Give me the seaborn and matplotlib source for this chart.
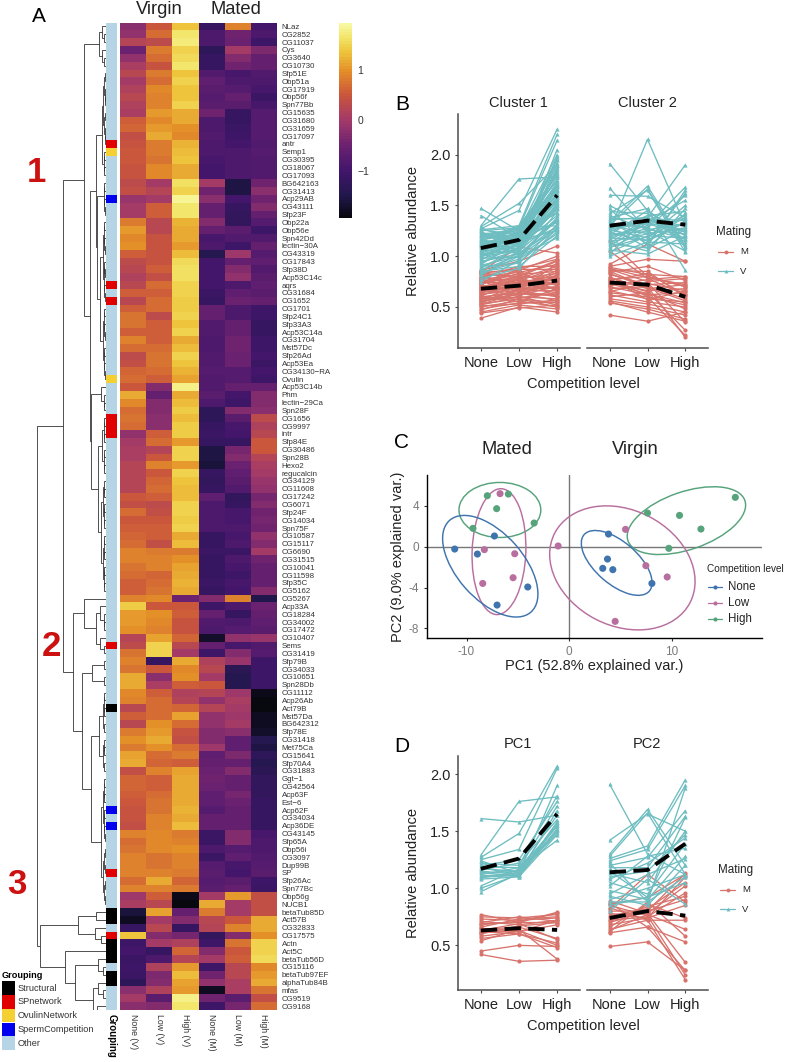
import numpy as np
import pandas as pd
import matplotlib
matplotlib.use("Agg")
import matplotlib.pyplot as plt
from matplotlib.colors import LinearSegmentedColormap, ListedColormap
from matplotlib.lines import Line2D
from matplotlib.patches import Ellipse, Rectangle
import seaborn as sns

W, H = 786, 1062

genes = """NLaz CG2852 CG11037 Cys CG3640 CG10730 Sfp51E Obp51a CG17919 Obp56f Spn77Bb CG15635 CG31680 CG31659 CG17097 antr Semp1 CG30395 CG18067 CG17093 BG642163 CG31413 Acp29AB CG43111 Sfp23F Obp22a Obp56e Spn42Dd lectin−30A CG43319 CG17843 Sfp38D Acp53C14c aqrs CG31684 CG1652 CG1701 Sfp24C1 Sfp33A3 Acp53C14a CG31704 Mst57Dc Sfp26Ad Acp53Ea CG34130−RA Ovulin Acp53C14b Phm lectin−29Ca Spn28F CG1656 CG9997 intr Sfp84E CG30486 Spn28B Hexo2 regucalcin CG34129 CG11608 CG17242 CG6071 Sfp24F CG14034 Spn75F CG10587 CG15117 CG6690 CG31515 CG10041 CG11598 Sfp35C CG5162 CG5267 Acp33A CG18284 CG34002 CG17472 CG10407 Sems CG31419 Sfp79B CG34033 CG10651 Spn28Db CG11112 Acp26Ab Act79B Mst57Da BG642312 Sfp78E CG31418 Met75Ca CG15641 Sfp70A4 CG31883 Ggt−1 CG42564 Acp63F Est−6 Acp62F CG34034 Acp36DE CG43145 Sfp65A Obp56i CG3097 Dup99B SP Sfp26Ac Spn77Bc Obp56g NUCB1 betaTub85D Act57B CG32833 CG17575 Actn Act5C betaTub56D CG15116 betaTub97EF alphaTub84B mfas CG9519 CG9168""".split()
conditions = ["None (V)", "Low (V)", "High (V)", "None (M)", "Low (M)", "High (M)"]
heat_values = [
[-0.2,0.5,1.35,-1.15,0.85,-1.0],[-0.15,0.7,1.65,-0.9,-0.45,-0.9],[0.2,0.35,1.7,-0.85,-0.5,-1.05],
[-0.5,0.8,1.45,-1.3,0.0,-0.35],[-0.15,0.7,1.55,-1.15,-0.25,-0.55],[0.1,0.45,1.65,-1.15,-0.45,-0.55],
[0.3,0.8,1.35,-0.8,-0.95,-0.8],[0.0,0.7,1.5,-0.65,-0.9,-0.85],[0.15,0.95,1.35,-0.7,-0.75,-0.95],
[0.3,0.85,1.35,-0.75,-0.6,-1.1],[0.15,0.85,1.45,-0.7,-0.7,-0.95],[0.1,1.05,1.2,-0.45,-1.2,-0.75],
[0.55,0.95,1.15,-0.85,-1.15,-0.75],[0.65,1.05,1.0,-0.9,-1.1,-0.75],[0.4,1.15,0.95,-0.8,-1.05,-0.75],
[0.45,0.8,1.25,-0.9,-1.0,-0.8],[0.5,0.8,1.3,-0.9,-0.85,-0.75],[0.5,0.75,1.35,-0.95,-0.85,-0.8],
[0.45,0.95,1.2,-1.0,-0.85,-0.8],[0.45,0.95,1.15,-1.0,-0.85,-0.8],[0.35,0.05,1.6,0.05,-1.55,-0.45],
[0.4,0.2,1.5,-0.45,-1.55,-0.2],[-0.1,0.05,1.85,-0.2,-1.0,-0.45],[0.0,0.6,1.65,-0.6,-1.15,-0.3],
[0.05,0.6,1.65,-0.55,-1.25,-0.55],[0.8,0.3,1.25,-0.3,-1.25,-0.75],[1.05,0.3,1.15,-0.6,-0.7,-1.05],
[0.95,0.45,1.2,-0.95,-0.8,-0.8],[1.0,0.45,1.05,-0.9,-1.05,-0.55],[0.55,0.45,1.3,-1.4,-0.05,-0.75],
[0.35,0.45,1.55,-1.0,-0.55,-0.65],[0.25,0.6,1.6,-1.0,-0.3,-0.8],[0.15,0.4,1.6,-1.0,-0.15,-0.7],
[0.3,0.7,1.45,-1.0,-0.9,-0.65],[0.55,0.55,1.45,-1.1,-0.65,-0.7],[0.3,0.7,1.4,-1.2,-0.5,-0.55],
[0.55,0.7,1.4,-0.55,-0.85,-1.05],[0.75,0.35,1.45,-0.55,-0.85,-1.05],[0.75,0.6,1.35,-0.8,-0.6,-1.15],
[0.6,0.6,1.45,-0.8,-0.55,-1.15],[0.9,0.6,1.2,-0.85,-0.45,-1.05],[0.7,0.7,1.3,-0.85,-0.45,-1.05],
[0.35,0.75,1.45,-0.8,-0.5,-1.0],[0.4,0.75,1.35,-0.8,-0.5,-1.1],[0.65,0.7,1.25,-0.75,-0.75,-1.0],
[0.7,0.6,1.1,-0.8,-0.75,-1.05],[0.5,-0.25,1.8,-0.8,-0.55,-0.55],[1.2,-0.55,1.15,-0.7,-1.0,-0.3],
[0.95,-0.3,1.3,-0.9,-1.05,-0.25],[0.7,-0.3,1.4,-1.3,-0.3,-0.2],[0.75,-0.2,1.3,-1.3,-0.7,0.35],
[0.7,-0.2,1.4,-1.15,-0.95,0.15],[-0.15,0.6,1.4,-1.1,-1.0,0.3],[0.05,0.7,1.05,-1.15,-1.2,0.5],
[0.1,0.2,1.45,-1.55,-0.4,0.5],[0.1,0.5,1.5,-1.55,-0.3,0.2],[0.2,0.85,1.05,-1.6,-0.5,0.1],
[0.2,0.5,1.5,-1.2,-0.65,0.05],[0.2,0.65,1.35,-1.25,-0.7,-0.1],[0.2,0.7,1.3,-1.2,-0.8,-0.15],
[0.5,0.55,1.3,-0.65,-1.25,-0.4],[0.4,0.35,1.5,-0.85,-1.15,-0.25],[0.7,0.4,1.45,-0.85,-0.95,-0.45],
[0.5,0.5,1.4,-0.85,-0.95,-0.4],[0.55,0.55,1.45,-0.85,-0.9,-0.45],[0.65,0.55,1.2,-1.15,-0.95,-0.15],
[0.7,0.4,1.3,-1.15,-0.9,-0.25],[0.85,0.8,0.8,-1.1,-1.1,0.0],[0.85,0.85,1.0,-1.15,-0.85,-0.45],
[0.75,0.85,1.1,-1.2,-0.95,-0.55],[0.7,0.65,1.2,-1.15,-1.05,-0.6],[0.6,0.7,1.25,-1.1,-0.95,-0.6],
[0.55,0.75,1.2,-1.15,-1.0,-0.3],[0.85,0.95,-0.5,-0.3,0.85,-1.45],[1.4,0.5,0.5,-1.05,-0.9,-0.5],
[1.05,1.0,0.55,-0.6,-1.2,-0.6],[1.05,0.95,0.45,-0.8,-0.9,-0.65],[1.0,0.9,0.45,-0.85,-0.75,-0.7],
[0.2,1.1,0.65,-1.7,-0.15,-0.1],[0.35,1.5,0.3,-0.6,-0.95,-0.8],[0.75,1.45,0.05,-1.05,-0.3,-0.75],
[0.9,-1.15,1.2,0.15,-0.1,-1.05],[0.75,0.5,0.95,0.3,-1.35,-1.05],[1.15,-0.2,1.0,0.05,-1.4,-1.05],
[1.15,0.1,0.6,0.5,-1.4,-1.05],[0.95,0.6,0.15,0.2,-0.05,-1.85],[0.85,0.7,0.2,-0.15,0.1,-1.9],
[0.25,0.7,0.65,0.2,0.0,-1.9],[0.6,0.7,1.1,-0.15,-0.05,-1.75],[0.3,1.0,0.7,-0.15,0.0,-1.75],
[0.8,1.05,0.45,-0.25,-0.2,-1.7],[1.0,1.15,0.4,-0.3,-0.65,-1.4],[0.8,1.0,0.7,-0.05,-0.65,-1.55],
[1.1,0.7,0.8,-0.65,-0.35,-1.3],[1.2,0.65,0.6,-0.55,-0.55,-1.4],[0.4,0.9,1.1,-0.5,-0.25,-1.35],
[0.65,0.6,1.15,-0.45,-0.6,-1.25],[0.65,0.6,1.15,-0.5,-0.55,-1.25],[0.55,0.7,1.2,-0.65,-0.4,-1.25],
[0.5,0.75,1.2,-0.65,-0.5,-1.2],[0.45,0.75,1.25,-0.75,-0.55,-1.2],[0.45,0.85,1.2,-0.6,-0.6,-1.2],
[0.4,0.85,1.3,-0.55,-0.6,-1.2],[0.85,0.95,0.8,-1.1,-0.3,-0.95],[0.7,0.95,0.85,-1.1,-0.25,-0.9],
[0.75,0.95,1.0,-0.9,-0.75,-0.85],[0.9,0.75,0.9,-1.1,-0.65,-0.8],[0.9,0.75,0.85,-0.75,-0.95,-0.75],
[0.9,0.85,0.8,-0.7,-1.0,-0.7],[0.7,1.15,0.65,-0.75,-0.7,-1.05],[0.9,0.85,0.8,-0.7,-0.6,-1.1],
[-0.05,0.55,-1.85,0.0,1.05,0.4],[0.1,0.3,-1.9,1.15,0.05,0.4],[-1.6,1.1,-0.6,0.8,0.05,0.4],
[-1.75,0.05,-0.3,0.3,0.5,1.15],[-1.2,0.3,-1.2,0.2,0.85,1.15],[1.35,-0.3,-0.4,-1.25,-0.3,1.0],
[-1.05,0.05,0.15,-1.05,0.75,1.5],[-1.0,-1.15,0.65,-0.25,0.5,1.45],[-1.1,-0.9,0.2,0.05,0.6,1.55],
[-1.05,0.15,1.05,-1.05,0.25,0.95],[-1.1,-0.35,1.3,-0.45,0.25,1.05],[-1.3,-0.3,1.1,-0.15,0.1,1.2],
[-0.2,0.15,1.05,-1.75,0.1,0.75],[0.0,-0.7,1.75,-0.45,-0.7,0.4],[-0.2,-0.3,1.65,-1.05,-0.4,0.7],
]
group_names = ["Structural", "SPnetwork", "OvulinNetwork", "SpermCompetition", "Other"]
group_colors = ["#000000", "#e00000", "#f5d033", "#0000ee", "#b5d5e6"]
special_groups = {
    "antr": 1, "Semp1": 2, "Acp29AB": 3, "aqrs": 1, "CG1652": 1, "Ovulin": 2, "CG1656": 1, "CG9997": 1,
    "intr": 1, "Sems": 1, "Act79B": 0, "Acp62F": 3, "Acp36DE": 3, "SP": 1, "betaTub85D": 0, "Act57B": 0,
    "CG17575": 1, "Actn": 0, "Act5C": 0, "betaTub56D": 0, "betaTub97EF": 0, "alphaTub84B": 0,
}
# dendrogram: (merge height, upper child, lower child); an integer child is a small run of leaves
dendrogram_tree = (69,
  (43,
    (22,
      (7, (4, 1, 2), (4, 1, 2)),
      (16,
        (10,
          (4, (2.5, 5, 5), 4),
          (9, 5, (6, (3, 5, 6), (3, 5, 5)))),
        (15,
          (5, 1, 3),
          (8, (4, 4, 4), (5, (3, 3, 4), (3, 4, 4)))))),
    (33,
      (22, 1, (10, (6, 1, 3), (6, 1, 2))),
      (24,
        (14, 2, 2),
        (15, (7, (3, 4, 2), (3, 3, 2)), (5, (3, 4, 5), (2.5, 4, 4)))))),
  (66,
    (28, (10, 1, 1), (11, 1, (5, 1, 1))),
    (40.5, 1,
      (31,
        (8, 1, (3, 1, 1)),
        (13, (8, 1, (3, 1, 1)), (9, 1, (3, 1, 1)))))))

levels = ["None", "Low", "High"]
cluster1_v = [[1.47,1.25,1.80],[1.40,1.18,1.72],[1.30,1.76,1.78],[1.29,1.52,1.90],[1.27,1.45,2.25],[1.26,1.30,2.20],
[1.25,1.28,2.14],[1.24,1.10,2.05],[1.22,1.25,2.00],[1.21,1.20,1.96],[1.20,1.28,1.30],[1.18,1.24,1.90],[1.17,1.05,1.86],
[1.16,1.22,1.82],[1.15,1.30,1.80],[1.14,1.16,1.25],[1.13,1.20,1.72],[1.12,1.12,1.68],[1.11,1.24,1.64],[1.10,1.15,1.60],
[1.09,1.10,1.56],[1.08,1.18,1.53],[1.06,1.13,1.95],[1.05,1.08,1.46],[1.04,1.20,1.43],[1.02,1.10,1.40],[1.00,1.05,1.37],
[0.99,1.16,1.34],[0.97,1.08,1.88],[0.95,1.02,1.30],[0.93,1.12,1.28],[0.91,1.00,1.26],[0.89,1.04,1.70],[0.87,0.97,1.22],
[0.85,0.90,1.20],[0.82,1.00,1.18],[0.78,0.88,1.28],[0.75,0.96,1.44],[1.23,1.15,1.62],[1.19,1.27,1.75],[1.07,1.22,1.66],
[1.03,1.15,1.50],[1.01,1.07,1.58],[1.13,1.02,1.35],[0.96,1.18,1.78],[1.28,1.14,1.48],[1.26,1.21,1.69],[1.22,1.09,1.55],
[1.17,1.26,1.42],[1.14,1.06,1.92],[1.11,1.19,1.33],[1.09,1.29,1.74],[1.06,1.03,1.27],[1.04,1.25,1.60],[1.01,1.12,1.47],
[0.98,0.99,1.38],[0.94,1.06,1.52],[0.92,1.14,1.65],[0.90,0.93,1.31],[0.88,1.09,1.58],[0.86,1.01,1.36],[0.84,0.94,1.24],
[0.81,1.04,1.50],[1.20,1.17,1.84],[1.16,1.11,1.98],[1.12,1.23,1.70]]
cluster1_m = [[0.86,0.95,1.10],[0.85,1.09,1.03],[0.84,0.86,1.00],[0.83,0.88,0.97],[0.82,0.80,0.95],[0.80,0.84,0.92],
[0.79,0.90,0.90],[0.78,0.76,0.88],[0.77,0.82,0.85],[0.75,0.78,0.83],[0.74,0.74,0.81],[0.73,0.80,0.79],[0.71,0.72,0.78],
[0.70,0.76,0.76],[0.69,0.70,0.74],[0.67,0.74,0.72],[0.66,0.68,0.70],[0.65,0.72,0.68],[0.63,0.66,0.66],[0.62,0.69,0.64],
[0.60,0.64,0.62],[0.59,0.66,0.60],[0.58,0.62,0.70],[0.56,0.60,0.58],[0.55,0.64,0.56],[0.53,0.58,0.54],[0.52,0.60,0.52],
[0.50,0.56,0.50],[0.48,0.54,0.55],[0.45,0.52,0.48],[0.44,0.49,0.52],[0.39,0.50,0.45],[0.81,0.70,0.86],[0.72,0.86,0.65],
[0.68,0.60,0.82],[0.64,0.78,0.60],[0.57,0.72,0.77],[0.76,0.62,0.75],[0.61,0.55,0.68],[0.54,0.68,0.73],[0.84,0.78,0.90],
[0.80,0.73,0.79],[0.77,0.68,0.84],[0.73,0.83,0.71],[0.70,0.66,0.93],[0.67,0.79,0.67],[0.64,0.70,0.80],[0.61,0.75,0.74],
[0.59,0.59,0.64],[0.56,0.67,0.69],[0.53,0.63,0.61],[0.51,0.53,0.57],[0.47,0.58,0.50],[0.74,0.87,0.87],[0.69,0.81,0.96]]
cluster2_v = [[1.91,1.45,1.20],[1.67,1.25,1.05],[1.60,1.59,1.38],[1.50,1.30,1.68],[1.47,1.10,1.65],[1.44,1.42,1.10],
[1.25,2.15,1.30],[1.33,1.69,1.10],[1.30,1.66,1.08],[1.42,1.65,1.04],[1.38,1.47,0.86],[1.36,1.38,1.90],[1.35,1.12,1.62],
[1.32,1.28,1.60],[1.28,1.34,1.55],[1.26,1.18,1.50],[1.24,1.40,1.44],[1.22,1.24,1.40],[1.20,1.30,1.36],[1.18,1.16,1.34],
[1.16,1.36,1.30],[1.14,1.22,1.28],[1.12,1.08,1.26],[1.10,1.33,1.24],[1.08,1.26,1.22],[1.06,1.02,1.20],[1.04,1.20,1.18],
[1.02,1.38,1.14],[1.00,1.14,1.12],[1.40,1.26,1.32],[1.29,1.08,1.42],[1.21,1.45,1.16],[1.15,1.05,1.47],[1.37,1.37,1.35],
[1.31,1.22,1.27],[1.27,1.32,1.21],[1.23,1.15,1.33],[1.19,1.27,1.17],[1.13,1.35,1.25],[1.09,1.19,1.38]]
cluster2_m = [[1.15,0.80,0.70],[1.05,0.78,0.62],[0.92,1.12,0.95],[0.90,0.97,0.95],[0.42,0.36,0.45],[0.55,0.45,0.36],
[0.85,0.70,0.20],[0.80,0.60,0.22],[0.75,0.65,0.27],[0.89,0.82,0.80],[0.87,0.75,0.78],[0.86,0.85,0.60],[0.84,0.90,0.76],
[0.82,0.72,0.74],[0.79,0.68,0.72],[0.77,0.80,0.70],[0.74,0.66,0.68],[0.72,0.73,0.66],[0.70,0.62,0.64],[0.68,0.70,0.58],
[0.66,0.58,0.55],[0.64,0.60,0.52],[0.62,0.55,0.50],[0.60,0.64,0.48],[0.58,0.53,0.45],[0.56,0.50,0.42],[0.54,0.48,0.38],
[0.71,0.77,0.80],[0.65,0.74,0.35],[0.78,0.57,0.66],[0.88,0.79,0.72],[0.83,0.69,0.56],[0.76,0.83,0.62],[0.73,0.63,0.54]]
pc1_v = [[1.61,1.58,1.64],[1.29,1.76,1.80],[1.27,1.48,2.07],[1.25,1.34,2.05],[1.24,1.13,1.90],[1.22,1.20,1.81],
[1.20,1.25,1.76],[1.19,1.18,1.72],[1.18,1.12,1.68],[1.17,1.15,1.64],[1.16,1.22,1.60],[1.15,1.12,1.58],[1.14,1.10,1.57],
[1.13,1.15,1.55],[1.12,1.18,1.54],[1.11,1.12,1.52],[1.10,1.11,1.50],[1.09,1.14,1.48],[1.08,1.10,1.47],[1.02,1.17,1.42],
[1.00,1.12,1.55],[0.97,1.13,1.51]]
pc1_m = [[0.77,0.70,0.79],[0.75,0.74,0.77],[0.73,0.72,0.74],[0.71,0.68,0.72],[0.70,0.75,0.71],[0.69,0.70,0.70],
[0.68,0.71,0.78],[0.66,0.73,0.75],[0.65,0.62,0.68],[0.64,0.66,0.56],[0.63,0.69,0.55],[0.62,0.60,0.52],[0.61,0.63,0.50],
[0.60,0.67,0.70],[0.58,0.62,0.72],[0.56,0.60,0.48],[0.54,0.64,0.38],[0.45,0.50,0.49],[0.42,0.36,0.37]]
pc2_v = [[1.91,1.30,1.12],[1.42,1.65,1.50],[1.30,1.69,1.20],[1.28,1.66,1.12],[1.26,1.37,1.95],[1.24,1.34,1.90],
[1.22,0.88,1.88],[1.20,1.27,1.68],[1.18,1.18,1.63],[1.15,0.92,1.62],[1.13,1.05,1.50],[1.10,1.15,1.47],[1.08,1.22,1.44],
[1.05,0.95,1.39],[1.02,1.28,1.35],[0.98,0.90,1.28],[0.95,1.12,1.26],[0.93,0.85,1.20],[0.90,1.00,1.12],[0.88,0.88,1.10],
[0.85,0.92,1.05],[0.80,1.08,0.86]]
pc2_m = [[0.89,0.78,0.35],[0.87,0.66,0.28],[0.85,0.76,0.24],[0.83,0.72,0.20],[0.80,0.80,1.13],[0.78,0.74,1.10],
[0.76,0.82,1.05],[0.74,0.78,1.02],[0.72,0.75,0.96],[0.71,0.84,0.93],[0.70,0.80,0.90],[0.68,0.74,0.85],[0.66,0.86,0.74],
[0.64,0.72,0.72],[0.63,0.77,0.64],[0.62,0.88,0.58],[0.61,0.66,0.53],[0.49,0.53,0.28],[0.82,1.12,0.88],[0.86,0.92,1.12]]
mean_lines = {
    "Cluster 1": ([0.68, 0.71, 0.76], [1.08, 1.16, 1.60]),
    "Cluster 2": ([0.74, 0.72, 0.60], [1.30, 1.35, 1.31]),
    "PC1": ([0.63, 0.65, 0.635], [1.17, 1.26, 1.65]),
    "PC2": ([0.74, 0.80, 0.76], [1.14, 1.16, 1.39]),
}
pca_none_x = [-11.15,-8.94,-7.28,-4.03,-7.02,3.84,3.74,3.28,4.26,8.07]
pca_none_y = [-0.23,-0.72,1.05,-3.95,-5.72,1.24,-1.21,-2.12,-2.25,-3.6]
pca_low_x = [-6.73,-8.26,-5.3,-5.46,-8.42,-1.07,5.5,7.48,9.56,4.49]
pca_low_y = [5.2,-0.29,-0.69,-3.04,-3.6,0.07,1.7,-1.86,-2.97,-7.32]
pca_high_x = [-7.97,-5.92,-7.06,-9.37,-3.41,7.64,10.76,12.85,16.2,9.72]
pca_high_y = [5.0,5.16,3.73,1.8,2.32,3.3,3.07,1.73,4.84,-0.16]

sns.set_theme(style="white")
plt.rcParams["font.family"] = ["Liberation Sans", "DejaVu Sans"]
plt.rcParams["axes.unicode_minus"] = True

fig = plt.figure(figsize=(W / 100, H / 100), dpi=100, facecolor="white")

def ax_px(l, t, r, b):
    return fig.add_axes([l / W, 1 - b / H, (r - l) / W, (b - t) / H])

def fig_text(x, y, s, **kw):
    kw.setdefault("ha", "center")
    kw.setdefault("va", "center")
    fig.text(x / W, 1 - y / H, s, **kw)

# ---------------- panel A ----------------
TOP, BOT = 22.5, 1010
cmap = LinearSegmentedColormap.from_list("heat", [
    (0.0, "#08080f"), (0.11, "#21174c"), (0.24, "#43166c"), (0.37, "#6a2170"), (0.5, "#a2396a"),
    (0.63, "#c9553c"), (0.76, "#e48f28"), (0.86, "#eec63e"), (0.93, "#f2e468"), (1.0, "#f7f9a2")], N=64)
heat_df = pd.DataFrame(heat_values, index=genes, columns=conditions)
ax_heat = ax_px(120, TOP, 277, BOT)
ax_cbar = ax_px(339, 23, 352, 218)
sns.heatmap(heat_df, ax=ax_heat, cmap=cmap, vmin=-1.93, vmax=1.93, cbar_ax=ax_cbar,
            linewidths=0, yticklabels=True, xticklabels=True)
ax_heat.yaxis.tick_right()
ax_heat.set_yticks(np.arange(len(genes)) + 0.5, genes, rotation=0, fontsize=5.7, color="#333333")
ax_heat.set_xticks(np.arange(6) + 0.5, conditions, rotation=270, fontsize=6.3, color="#333333")
ax_heat.tick_params(length=0, pad=3.5)
ax_heat.tick_params(axis="x", pad=3)
ax_cbar.tick_params(length=0, labelsize=7.5, pad=4, colors="#333333")
ax_cbar.set_yticks([-1, 0, 1], ["−1", "0", "1"])
for s in ax_cbar.spines.values():
    s.set_visible(False)

group_idx = [special_groups.get(g, 4) for g in genes]
ax_grp = ax_px(106, TOP, 116.7, BOT)
sns.heatmap(pd.DataFrame({"Grouping": group_idx}, index=genes), ax=ax_grp, cmap=ListedColormap(group_colors),
            vmin=-0.5, vmax=4.5, cbar=False, xticklabels=False, yticklabels=False)
ax_grp.set_xlabel(""); ax_grp.set_ylabel("")
fig_text(111.5, 1036, "Grouping", rotation=270, fontsize=7, fontweight="bold", color="black")

ax_den = ax_px(34, TOP, 105.5, BOT)
ax_den.set_xlim(71.5, 0)
ax_den.set_ylim(len(genes), 0)
ax_den.axis("off")
DEN_KW = dict(color="#333333", lw=0.6, solid_capstyle="butt", solid_joinstyle="miter")
cursor = [0]

def draw_child(c, parent_h):
    if isinstance(c, tuple):
        return draw_node(c), c[0]
    if c == 1:
        y = cursor[0] + 0.5
        cursor[0] += 1
        return y, 0.0
    h = min(1.8, parent_h * 0.6)
    k = c // 2
    return draw_node((h, k, c - k)), h

def draw_node(node):
    h, a, b = node
    ya, ha = draw_child(a, h)
    yb, hb = draw_child(b, h)
    ax_den.plot([ha, h, h, hb], [ya, ya, yb, yb], **DEN_KW)
    return (ya + yb) / 2

root_y = draw_node(dendrogram_tree)

fig_text(110 / 3, 172, "1", color="#cc1111", fontsize=25, fontweight="bold")
fig_text(51, 647, "2", color="#cc1111", fontsize=25, fontweight="bold")
fig_text(17, 885, "3", color="#cc1111", fontsize=25, fontweight="bold")
fig_text(39, 16, "A", fontsize=15, color="black")
fig_text(159, 9, "Virgin", fontsize=13.2, color="#222222")
fig_text(236, 9, "Mated", fontsize=13.2, color="#222222")

fig_text(2, 975, "Grouping", ha="left", fontsize=6.6, fontweight="bold", color="black")
for i, (name, col) in enumerate(zip(group_names, group_colors)):
    y0 = 981.5 + i * 13.7
    fig.add_artist(Rectangle((2 / W, 1 - (y0 + 13.4) / H), 13 / W, 13.4 / H, transform=fig.transFigure, fc=col, ec="none"))
    fig_text(18, y0 + 6.7, name, ha="left", fontsize=6.6, color="#333333")

# ---------------- line panels ----------------
COL_M, COL_V = "#d8736c", "#6dbdc1"

def tidy(rows, mating):
    return pd.DataFrame([{"gene": f"{mating}{i}", "level": j, "value": v, "Mating": mating}
                         for i, r in enumerate(rows) for j, v in enumerate(r)])

def line_panel(box, ylim, title, m_rows, v_rows, first):
    ax = ax_px(*box)
    df = pd.concat([tidy(m_rows, "M"), tidy(v_rows, "V")])
    sns.lineplot(data=df, x="level", y="value", hue="Mating", units="gene", estimator=None,
                 palette={"M": COL_M, "V": COL_V}, style="Mating", markers={"M": "o", "V": "^"}, dashes=False,
                 markersize=3.0, markeredgewidth=0, lw=0.95, ax=ax, legend=False)
    for vals in mean_lines[title]:
        sns.lineplot(x=[0, 1, 2], y=vals, color="black", lw=2.8, ax=ax, legend=False, errorbar=None,
                     linestyle=(0, (4.2, 1.9)))
    ax.set_xlim(-0.6, 2.6)
    ax.set_ylim(*ylim)
    ax.set_xticks([0, 1, 2], levels)
    ax.set_yticks([0.5, 1.0, 1.5, 2.0] if first else [])
    ax.set_xlabel(""); ax.set_ylabel("")
    ax.tick_params(axis="both", labelsize=10.5, labelcolor="#222222", color="#4d4d4d", length=2.5, width=0.8, pad=3, bottom=True, left=first)
    for s in ["top", "right"]:
        ax.spines[s].set_visible(False)
    ax.spines["left"].set_visible(first)
    ax.spines["left"].set_color("#4d4d4d"); ax.spines["bottom"].set_color("#4d4d4d")
    ax.spines["left"].set_linewidth(1.1); ax.spines["bottom"].set_linewidth(1.1)
    ax.patch.set_alpha(0)
    return ax

def mating_legend(x_title, y_title, y1, y2):
    fig_text(x_title, y_title, "Mating", ha="left", fontsize=8.4, color="#222222")
    for y, c, m, lab in [(y1, COL_M, "o", "M"), (y2, COL_V, "^", "V")]:
        fig.add_artist(Line2D([(x_title + 2) / W, (x_title + 17) / W], [1 - y / H] * 2, color=c, lw=0.9, transform=fig.transFigure))
        fig.add_artist(Line2D([(x_title + 9.5) / W], [1 - y / H], color=c, marker=m, ms=2.8, mew=0, transform=fig.transFigure))
        fig_text(x_title + 24, y, lab, ha="left", fontsize=6.8, color="#222222")

yl_b = (0.096, 2.40)
line_panel((458, 114, 580, 348), yl_b, "Cluster 1", cluster1_m, cluster1_v, True)
line_panel((587, 114, 708, 348), yl_b, "Cluster 2", cluster2_m, cluster2_v, False)
fig_text(518, 103, "Cluster 1", fontsize=10.5, color="#222222")
fig_text(647, 103, "Cluster 2", fontsize=10.5, color="#222222")
fig_text(583, 384, "Competition level", fontsize=10.5, color="#222222")
fig_text(413, 231, "Relative abundance", rotation=90, fontsize=10.5, color="#222222")
fig_text(402, 104, "B", fontsize=15, color="black")
mating_legend(716, 232, 252, 271)

yl_d = (0.109, 2.158)
line_panel((458, 756, 580, 990), yl_d, "PC1", pc1_m, pc1_v, True)
line_panel((587, 756, 708, 990), yl_d, "PC2", pc2_m, pc2_v, False)
fig_text(518, 744, "PC1", fontsize=10.5, color="#222222")
fig_text(647, 744, "PC2", fontsize=10.5, color="#222222")
fig_text(583, 1026, "Competition level", fontsize=10.5, color="#222222")
fig_text(413, 873, "Relative abundance", rotation=90, fontsize=10.5, color="#222222")
fig_text(402, 747, "D", fontsize=15, color="black")
mating_legend(718, 870, 890, 909)

# ---------------- panel C ----------------
ax_c = ax_px(427, 475, 762, 638)
pca_cols = {"None": "#3f74ae", "Low": "#b86f9f", "High": "#56a37c"}
pca_df = pd.concat([
    pd.DataFrame({"PC1": pca_none_x, "PC2": pca_none_y, "level": "None"}),
    pd.DataFrame({"PC1": pca_low_x, "PC2": pca_low_y, "level": "Low"}),
    pd.DataFrame({"PC1": pca_high_x, "PC2": pca_high_y, "level": "High"})])
ax_c.axhline(0, color="#555555", lw=1.0, alpha=0.8, zorder=1)
ax_c.axvline(0, color="#555555", lw=1.0, alpha=0.8, zorder=1)
sns.scatterplot(data=pca_df, x="PC1", y="PC2", hue="level", palette=pca_cols, s=26, linewidth=0, legend=False, ax=ax_c, zorder=3)
for lev, sub in pca_df.groupby("level"):
    for part in (sub.iloc[:5], sub.iloc[5:]):
        cov = np.cov(part["PC1"], part["PC2"])
        vals, vecs = np.linalg.eigh(cov)
        ang = np.degrees(np.arctan2(vecs[1, 1], vecs[0, 1]))
        sc = 1.77
        ax_c.add_patch(Ellipse((part["PC1"].mean(), part["PC2"].mean()), 2 * sc * np.sqrt(vals[1]), 2 * sc * np.sqrt(vals[0]),
                               angle=ang, fill=False, ec=pca_cols[lev], lw=1.05, zorder=2))
ax_c.set_xlim(-13.85, 18.8)
ax_c.set_ylim(-8.95, 7.03)
ax_c.set_xticks([-10, 0, 10], ["-10", "0", "10"])
ax_c.set_yticks([-8, -4, 0, 4], ["-8", "-4", "0", "4"])
ax_c.set_xlabel(""); ax_c.set_ylabel("")
ax_c.tick_params(labelsize=8.5, labelcolor="#7a7a7a", color="#333333", length=2.5, width=0.8, pad=3, bottom=True, left=True)
for s in ["top", "right"]:
    ax_c.spines[s].set_visible(False)
for s in ["left", "bottom"]:
    ax_c.spines[s].set_color("black"); ax_c.spines[s].set_linewidth(1.0)
fig_text(507, 449, "Mated", fontsize=13.2, color="#222222")
fig_text(635, 449, "Virgin", fontsize=13.2, color="#222222")
fig_text(594, 666, "PC1 (52.8% explained var.)", fontsize=10.5, color="#222222")
fig_text(398, 557, "PC2 (9.0% explained var.)", rotation=90, fontsize=10.5, color="#222222")
fig_text(402, 443, "C", fontsize=15, color="black")
fig_text(707, 569, "Competition level", ha="left", fontsize=7.2, color="#222222")
for y, lev in [(587, "None"), (603, "Low"), (619, "High")]:
    fig.add_artist(Line2D([708 / W, 722 / W], [1 - y / H] * 2, color=pca_cols[lev], lw=0.9, transform=fig.transFigure))
    fig.add_artist(Line2D([715 / W], [1 - y / H], color=pca_cols[lev], marker="o", ms=3, mew=0, transform=fig.transFigure))
    fig_text(728, y, lev, ha="left", fontsize=8.3, color="#222222")

fig.savefig("out.png", dpi=100)
